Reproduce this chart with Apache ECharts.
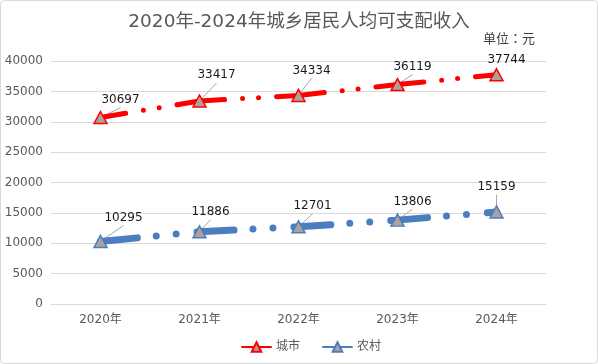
<!DOCTYPE html>
<html>
<head>
<meta charset="utf-8">
<script src="https://cdn.jsdelivr.net/npm/echarts@6/dist/echarts.min.js"></script>
<style>
html,body{margin:0;padding:0;background:#fff;}
#c{width:598px;height:364px;}
</style>
</head>
<body>
<div id="c"></div>
<script>
const categories = ['2020年', '2021年', '2022年', '2023年', '2024年'];
const cityIncome = [30697, 33417, 34334, 36119, 37744];
const ruralIncome = [10295, 11886, 12701, 13806, 15159];
const yTicks = [0, 5000, 10000, 15000, 20000, 25000, 30000, 35000, 40000];

// label nudges (dx, dy) relative to default 'top' placement
const cityLabelShift = [[20, 0], [17, -8], [13, -7], [15, 0], [10, 3]];
const ruralLabelShift = [[23, -6], [11, -2], [14, -3], [15, -1], [0, -7]];

const FONT = "'DejaVu Sans', 'Noto Sans CJK SC', sans-serif";
const chart = echarts.init(document.getElementById('c'), null, {renderer: 'canvas'});

function labelCfg() {
  return {show: true, position: 'top', distance: 5, color: '#1a1a1a', fontSize: 12, fontFamily: FONT};
}

function leaderSeries(values, shifts) {
  return {
    type: 'custom', silent: true, z: 2,
    data: values.map((v, i) => [i, v]),
    renderItem: function (params, api) {
      const p = api.coord([api.value(0), api.value(1)]);
      const s = shifts[params.dataIndex];
      const end = [p[0] + s[0], p[1] - 11 + s[1] + 1];
      const len = Math.hypot(end[0] - p[0], end[1] - p[1]);
      if (len < 16) return null;
      return {
        type: 'line',
        shape: {x1: p[0], y1: p[1], x2: end[0], y2: end[1]},
        style: {stroke: '#a6a6a6', lineWidth: 1}
      };
    }
  };
}

chart.setOption({
  animation: false,
  backgroundColor: '#fff',
  title: {
    text: '2020年-2024年城乡居民人均可支配收入',
    left: 'center', top: 8,
    textStyle: {color: '#595959', fontSize: 18.5, fontWeight: 'normal', fontFamily: FONT}
  },
  graphic: [
    {type: 'rect', shape: {x: 0.5, y: 0.5, width: 597, height: 363, r: 4},
     style: {fill: 'none', stroke: '#d9d9d9', lineWidth: 1}, silent: true},
    {type: 'text', left: 483, top: 32,
     style: {text: '单位：元', fill: '#404040', fontSize: 13, fontFamily: "'Noto Sans CJK TC', 'Noto Sans CJK SC', sans-serif"}}
  ],
  legend: {
    left: 236, top: 336,
    itemWidth: 29, itemHeight: 12, itemGap: 22,
    textStyle: {color: '#595959', fontSize: 12, fontFamily: FONT},
    lineStyle: {type: 'solid'},
    data: ['城市', '农村']
  },
  grid: {left: 51, right: 52, top: 61, bottom: 60},
  xAxis: {
    type: 'category', data: categories, boundaryGap: true,
    axisLine: {lineStyle: {color: '#d9d9d9'}},
    axisTick: {show: false},
    axisLabel: {color: '#595959', fontSize: 12, fontFamily: FONT, margin: 10}
  },
  yAxis: {
    type: 'value', min: yTicks[0], max: yTicks[yTicks.length - 1], interval: yTicks[1] - yTicks[0],
    axisLine: {show: false}, axisTick: {show: false},
    axisLabel: {color: '#595959', fontSize: 12, fontFamily: FONT, margin: 8, formatter: v => String(v)},
    splitLine: {lineStyle: {color: '#d9d9d9'}}
  },
  series: [
    leaderSeries(cityIncome, cityLabelShift),
    leaderSeries(ruralIncome, ruralLabelShift),
    {
      name: '城市', type: 'line', data: cityIncome,
      symbol: 'triangle', symbolSize: [13, 12], showAllSymbol: true,
      itemStyle: {color: '#aaa39b', borderColor: '#ff0000', borderWidth: 1.5},
      lineStyle: {color: '#ff0000', width: 5, type: [48, 18, 0, 16, 0, 18], dashOffset: 22.5, cap: 'round'},
      label: labelCfg(),
      labelLayout: p => ({dx: cityLabelShift[p.dataIndex][0], dy: cityLabelShift[p.dataIndex][1]}),
      z: 3
    },
    {
      name: '农村', type: 'line', data: ruralIncome,
      symbol: 'triangle', symbolSize: [13, 12], showAllSymbol: true,
      itemStyle: {color: '#aaa39b', borderColor: '#4a7ebf', borderWidth: 1.5},
      lineStyle: {color: '#4a7ebf', width: 7, type: [37, 19, 0, 20, 0, 21], dashOffset: 0, cap: 'round'},
      label: labelCfg(),
      labelLayout: p => ({dx: ruralLabelShift[p.dataIndex][0], dy: ruralLabelShift[p.dataIndex][1]}),
      z: 3
    }
  ]
});
</script>
</body>
</html>
